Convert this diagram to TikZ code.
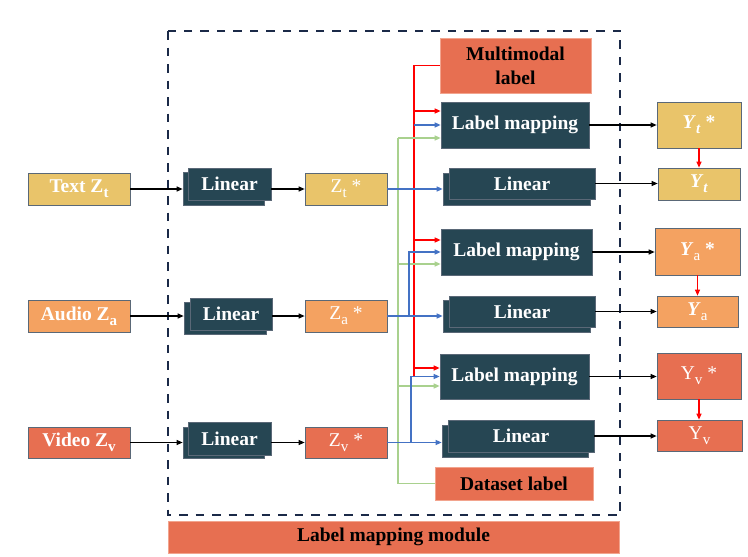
\documentclass[tikz,border=0pt]{standalone}
\usepackage{fontspec}
\setmainfont{Liberation Serif}
\usetikzlibrary{arrows.meta}
\definecolor{cyel}{HTML}{E9C46A}
\definecolor{cora}{HTML}{F4A261}
\definecolor{cred}{HTML}{E76F51}
\definecolor{cdark}{HTML}{264653}
\definecolor{cbord}{HTML}{5A6877}
\definecolor{clbord}{HTML}{F2A48E}
\definecolor{cnavy}{HTML}{1B2A48}
\definecolor{cblue}{HTML}{4472C4}
\definecolor{cgreen}{HTML}{A9D18E}
\definecolor{cpure}{HTML}{FF0000}
\newcommand\subs[1]{\raisebox{-0.55ex}{\fontsize{15}{15}\selectfont #1}}
\tikzset{
  box/.style={draw=cbord, line width=0.7pt, inner sep=0pt, text=white,
    font=\fontsize{19.5}{21}\selectfont\bfseries, align=center},
  reg/.style={font=\fontsize{19.5}{21}\selectfont},
  yel/.style={box, fill=cyel},
  ora/.style={box, fill=cora},
  rdb/.style={box, fill=cred},
  drk/.style={box, fill=cdark},
  lbl/.style={box, fill=cred, draw=clbord, text=black},
  tip/.style={-{Triangle[length=6pt,width=5pt]}},
  blk/.style={tip, line width=1.1pt, black},
  blu/.style={tip, line width=1.3pt, cblue},
  grn/.style={tip, line width=1.3pt, cgreen},
  rd/.style={tip, line width=1.3pt, cpure},
  grnline/.style={line width=1.3pt, cgreen},
  rdline/.style={line width=1.3pt, cpure},
}
\begin{document}
\begin{tikzpicture}[x=1pt,y=-1pt]
\useasboundingbox[fill=white] (0,0) rectangle (748,557);
% dashed module frame
\draw[cnavy, line width=2.3pt, dash pattern=on 8.5pt off 8pt] (168,31) rectangle (620,515);
\node[lbl, minimum width=451pt, minimum height=32pt] (mod) at (393.5,537) {Label mapping module};
% inputs
\node[yel, minimum width=102pt, minimum height=32pt] (text) at (79,189) {Text Z\subs{t}};
\node[ora, minimum width=102pt, minimum height=32pt] (audio) at (79,316) {Audio Z\subs{a}};
\node[rdb, minimum width=102pt, minimum height=31pt] (video) at (79,442.5) {Video Z\subs{v}};
% left linear (stacked)
\node[drk, minimum width=81pt, minimum height=33pt] (lin1b) at (223.5,188.5) {};
\node[drk, minimum width=83pt, minimum height=32pt] (lin1f) at (229.5,184) {Linear};
\node[drk, minimum width=82pt, minimum height=32pt] (lin2b) at (225,318) {};
\node[drk, minimum width=82pt, minimum height=32pt] (lin2f) at (231,314) {Linear};
\node[drk, minimum width=81pt, minimum height=31pt] (lin3b) at (223.5,442.5) {};
\node[drk, minimum width=83pt, minimum height=33pt] (lin3f) at (229.5,438.5) {Linear};
% Z*
\node[yel, reg, minimum width=82pt, minimum height=32pt] (zt) at (346,189) {Z\subs{t} *};
\node[ora, reg, minimum width=82pt, minimum height=32pt] (za) at (346,316) {Z\subs{a} *};
\node[rdb, reg, minimum width=82pt, minimum height=31pt] (zv) at (346,442.5) {Z\subs{v} *};
% label sources
\node[lbl, minimum width=151pt, minimum height=55pt, font=\fontsize{19.5}{24}\selectfont\bfseries] (mm) at (515.5,65.5) {Multimodal\\label};
\node[lbl, minimum width=158pt, minimum height=33pt] (ds) at (514,483.5) {Dataset label};
% middle column
\node[drk, minimum width=148pt, minimum height=46pt] (lm1) at (515,125) {Label mapping};
\node[drk, minimum width=147pt, minimum height=32pt] (lin4b) at (516.5,189) {};
\node[drk, minimum width=146pt, minimum height=31pt] (lin4f) at (522,183.5) {Linear};
\node[drk, minimum width=151pt, minimum height=46pt] (lm2) at (516.5,252) {Label mapping};
\node[drk, minimum width=147pt, minimum height=32pt] (lin5b) at (516.5,316) {};
\node[drk, minimum width=146pt, minimum height=31pt] (lin5f) at (522,311.5) {Linear};
\node[drk, minimum width=149pt, minimum height=45pt] (lm3) at (514.5,376.5) {Label mapping};
\node[drk, minimum width=146pt, minimum height=32pt] (lin6b) at (515,441) {};
\node[drk, minimum width=146pt, minimum height=32pt] (lin6f) at (521,436) {Linear};
% outputs
\node[yel, minimum width=84pt, minimum height=46pt] (yts) at (699,125) {\textit{Y}\subs{\textit{t}} *};
\node[yel, minimum width=82pt, minimum height=32pt] (yt) at (699,184) {\textit{Y}\subs{\textit{t}}};
\node[ora, minimum width=85pt, minimum height=47pt] (yas) at (697.5,251.5) {\textit{Y}\subs{\mdseries a} *};
\node[ora, minimum width=81pt, minimum height=31pt] (ya) at (697.5,311.5) {\textit{Y}\subs{\mdseries a}};
\node[rdb, reg, minimum width=84pt, minimum height=46pt] (yvs) at (699,376) {Y\subs{v} *};
\node[rdb, reg, minimum width=85pt, minimum height=31pt] (yv) at (699.5,435.5) {Y\subs{v}};
% left arrows
\draw[blk] (text.east) -- (text.east -| lin1b.west);
\draw[blk] (audio.east) -- (audio.east -| lin2b.west);
\draw[blk] (video.east) -- (video.east -| lin3b.west);
\draw[blk] (lin1f.east |- zt.west) -- (zt.west);
\draw[blk] (lin2f.east |- za.west) -- (za.west);
\draw[blk] (lin3f.east |- zv.west) -- (zv.west);
% junction coordinates
\coordinate (rx) at (414,0);
\coordinate (gx) at (398,0);
\coordinate (bj1) at (414,125);
\coordinate (bj2) at (409,316);
\coordinate (bj3) at (411,442.5);
% red: multimodal label
\draw[rdline] (mm.west) -| (rx |- lm3.west) ++(0,-8.5) coordinate (r3);
\draw[rd] (r3) -- (r3 -| lm3.west);
\draw[rd] (rx |- 0,111) -- (lm1.west |- 0,111);
\draw[rd] (rx |- 0,240) -- (lm2.west |- 0,240);
% green: dataset label
\draw[grnline] (ds.west) -| (gx |- 0,138) coordinate (g1);
\draw[grn] (g1) -- (g1 -| lm1.west);
\draw[grn] (gx |- 0,264) -- (lm2.west |- 0,264);
\draw[grn] (gx |- 0,386) -- (lm3.west |- 0,386);
% blue
\draw[blu] (zt.east) -- (zt.east -| lin4b.west);
\draw[blu] (za.east) -- (za.east -| lin5b.west);
\draw[blu] (zv.east) -- (zv.east -| lin6b.west);
\draw[blu] (bj1) -- (lm1.west);
\draw[blu] (bj2) |- (lm2.west);
\draw[blu] (bj3) |- (lm3.west);
% right arrows
\draw[blk] (lm1.east) -- (lm1.east -| yts.west);
\draw[blk] (lin4f.east) -- (lin4f.east -| yt.west);
\draw[blk] (lm2.east) -- (lm2.east -| yas.west);
\draw[blk] (lin5f.east) -- (lin5f.east -| ya.west);
\draw[blk] (lm3.east) -- (lm3.east -| yvs.west);
\draw[blk] (lin6f.east) -- (lin6f.east -| yv.west);
% red output arrows
\draw[rd, line width=1.1pt] (yts.south) -- (yts.south |- yt.north);
\draw[rd, line width=1.1pt] (yas.south) -- (yas.south |- ya.north);
\draw[rd, line width=1.1pt] (yvs.south) -- (yvs.south |- yv.north);
\end{tikzpicture}
\end{document}
